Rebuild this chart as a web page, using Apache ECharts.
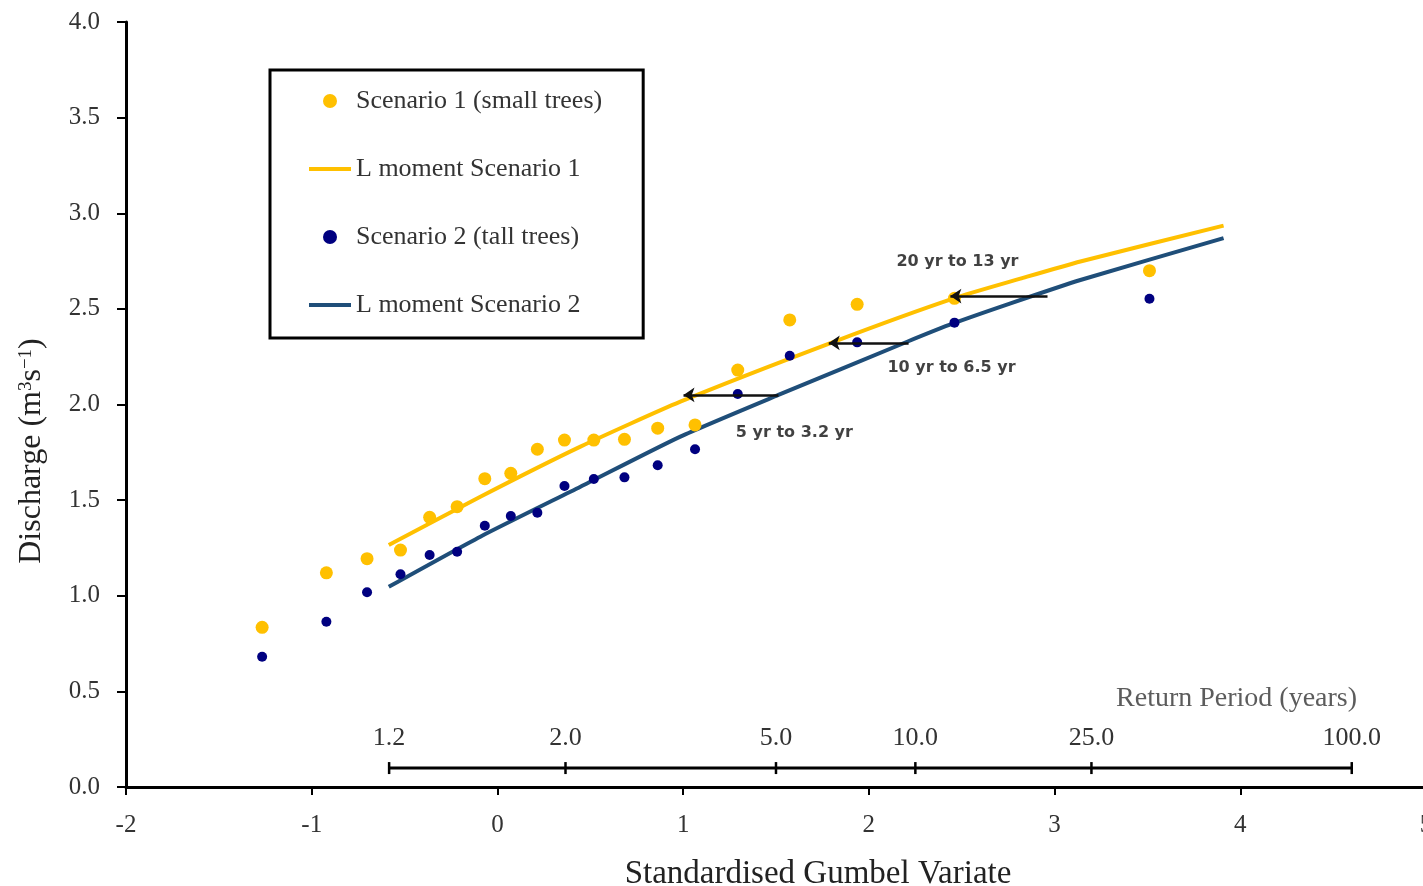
<!DOCTYPE html>
<html>
<head>
<meta charset="utf-8">
<script src="https://cdn.jsdelivr.net/npm/echarts@6/dist/echarts.min.js"></script>
<style>
  html, body { margin: 0; padding: 0; background: #fff; }
  #main { width: 1423px; height: 886px; }
</style>
</head>
<body>
<div id="main"></div>
<script>
// observed points (standardised Gumbel variate, discharge m3/s)
var gumbelX = [-1.267, -0.921, -0.702, -0.522, -0.365, -0.217, -0.068, 0.072, 0.215, 0.361,
               0.519, 0.684, 0.863, 1.064, 1.294, 1.574, 1.937, 2.461, 3.511];
var scenario1Q = [0.835, 1.120, 1.194, 1.239, 1.410, 1.466, 1.612, 1.640, 1.766, 1.814,
                  1.814, 1.818, 1.876, 1.893, 2.180, 2.442, 2.524, 2.555, 2.700];
var scenario2Q = [0.681, 0.864, 1.018, 1.112, 1.213, 1.230, 1.366, 1.417, 1.434, 1.574,
                  1.610, 1.619, 1.682, 1.766, 2.055, 2.255, 2.325, 2.428, 2.553];

// L moment fitted curves
var lm1X = [-0.585, -0.092, 0.447, 0.985, 1.811, 2.457, 2.816, 3.139, 3.910];
var lm1Q = [1.265, 1.518, 1.780, 2.015, 2.328, 2.555, 2.658, 2.748, 2.935];
var lm2X = [-0.585, -0.092, 0.447, 0.985, 1.513, 2.206, 2.457, 2.763, 3.139, 3.910];
var lm2Q = [1.047, 1.309, 1.570, 1.832, 2.050, 2.328, 2.425, 2.529, 2.651, 2.870];

// return period shift arrows
var arrowLabels = ['5 yr to 3.2 yr', '10 yr to 6.5 yr', '20 yr to 13 yr'];
var arrowFromX = [1.513, 2.214, 2.962];
var arrowToX = [1.002, 1.784, 2.439];
var arrowQ = [2.050, 2.322, 2.567];
var arrowLabelX = [1.599, 2.445, 2.477];
var arrowLabelQ = [1.851, 2.191, 2.745];

// secondary return period scale
var returnPeriods = [1.2, 2.0, 5.0, 10.0, 25.0, 100.0];
var returnAxisQ = 0.099;
var returnTitle = 'Return Period (years)';
var returnTitlePos = [3.98, 0.46];

function zip(a, b) {
    var out = [];
    for (var i = 0; i < a.length; i++) out.push([a[i], b[i]]);
    return out;
}
// Gumbel reduced variate of a return period
function gumbel(T) {
    return -Math.log(-Math.log(1 - 1 / T));
}

var serif = 'Liberation Serif';
var lineIcon = 'path://M0,0H42V4H0Z';
var rpTicks = returnPeriods.map(function (T) { return [gumbel(T), returnAxisQ, T]; });
var arrowData = [];
for (var i = 0; i < arrowLabels.length; i++) {
    arrowData.push({ coords: [[arrowFromX[i], arrowQ[i]], [arrowToX[i], arrowQ[i]]] });
}
var arrowTextData = arrowLabels.map(function (t, i) {
    return { name: t, value: [arrowLabelX[i], arrowLabelQ[i]] };
});

var chart = echarts.init(document.getElementById('main'));
var option = {
    animation: false,
    backgroundColor: '#fff',
    grid: { left: 126, top: 22, width: 1300, height: 765, outerBoundsMode: 'none' },
    legend: {
        orient: 'vertical',
        left: 270,
        top: 70,
        data: [
            { name: 'Scenario 1 (small trees)', icon: 'circle' },
            { name: 'L moment Scenario 1', icon: lineIcon },
            { name: 'Scenario 2 (tall trees)', icon: 'circle' },
            { name: 'L moment Scenario 2', icon: lineIcon }
        ],
        backgroundColor: '#fff',
        borderColor: '#000',
        borderWidth: 3,
        borderRadius: 0,
        padding: [18, 41, 20, 39],
        itemGap: 42,
        itemWidth: 42,
        itemHeight: 14,
        itemTextGap: 5,
        textStyle: { fontFamily: serif, fontSize: 26, color: '#333' }
    },
    xAxis: {
        type: 'value',
        min: -2,
        max: 5,
        interval: 1,
        name: 'Standardised Gumbel Variate',
        nameLocation: 'middle',
        nameGap: 71,
        nameTextStyle: { fontFamily: serif, fontSize: 33, color: '#222', padding: [0, 0, 0, 84] },
        axisLine: { onZero: false, lineStyle: { color: '#000', width: 3 } },
        axisTick: { length: 8, lineStyle: { color: '#000', width: 2 } },
        axisLabel: { margin: 26, fontFamily: serif, fontSize: 25, color: '#333' },
        splitLine: { show: false }
    },
    yAxis: {
        type: 'value',
        min: 0,
        max: 4,
        interval: 0.5,
        axisLine: { show: true, onZero: false, lineStyle: { color: '#000', width: 3 } },
        axisTick: { show: true, length: 9, lineStyle: { color: '#000', width: 2 } },
        axisLabel: {
            margin: 26, fontFamily: serif, fontSize: 25, color: '#333',
            formatter: function (v) { return v.toFixed(1); }
        },
        splitLine: { show: false }
    },
    graphic: [{
        type: 'text',
        x: 32,
        y: 451,
        rotation: Math.PI / 2,
        style: {
            text: 'Discharge (m{sup|3}s{sup|\u22121})',
            font: '32px "Liberation Serif"',
            fill: '#222',
            align: 'center',
            verticalAlign: 'middle',
            rich: {
                sup: { fontFamily: serif, fontSize: 19, fill: '#222', padding: [0, 0, 12, 0] }
            }
        }
    }],
    series: [
        {
            name: 'Scenario 1 (small trees)',
            type: 'scatter',
            data: zip(gumbelX, scenario1Q),
            symbol: 'circle',
            symbolSize: 13,
            itemStyle: { color: '#FFC000', opacity: 1 },
            z: 3
        },
        {
            name: 'L moment Scenario 1',
            type: 'line',
            data: zip(lm1X, lm1Q),
            symbol: 'none',
            smooth: 0.2,
            lineStyle: { color: '#FFC000', width: 4 },
            itemStyle: { color: '#FFC000' },
            z: 2
        },
        {
            name: 'Scenario 2 (tall trees)',
            type: 'scatter',
            data: zip(gumbelX, scenario2Q),
            symbol: 'circle',
            symbolSize: 10,
            itemStyle: { color: '#000080', opacity: 1 },
            z: 3
        },
        {
            name: 'L moment Scenario 2',
            type: 'line',
            data: zip(lm2X, lm2Q),
            symbol: 'none',
            smooth: 0.2,
            lineStyle: { color: '#1F4E79', width: 4 },
            itemStyle: { color: '#1F4E79' },
            z: 2
        },
        {
            // shift arrows
            type: 'lines',
            coordinateSystem: 'cartesian2d',
            data: arrowData,
            symbol: ['none', 'arrow'],
            symbolSize: 11,
            lineStyle: { color: '#111', width: 2.5, opacity: 1 },
            silent: true,
            z: 5
        },
        {
            type: 'scatter',
            data: arrowTextData,
            symbolSize: 0,
            silent: true,
            label: {
                show: true,
                position: 'inside',
                formatter: function (p) { return p.name; },
                fontFamily: 'DejaVu Sans',
                fontWeight: 'bold',
                fontSize: 16,
                color: '#111'
            },
            z: 6
        },
        {
            // return period scale line
            type: 'line',
            data: [[gumbel(returnPeriods[0]), returnAxisQ], [gumbel(returnPeriods[returnPeriods.length - 1]), returnAxisQ]],
            symbol: 'none',
            lineStyle: { color: '#000', width: 3 },
            silent: true,
            z: 4
        },
        {
            type: 'scatter',
            data: rpTicks,
            symbol: 'rect',
            symbolSize: [2.5, 12],
            itemStyle: { color: '#000', opacity: 1 },
            silent: true,
            label: {
                show: true,
                position: 'top',
                distance: 11,
                formatter: function (p) { return p.value[2].toFixed(1); },
                fontFamily: serif,
                fontSize: 26,
                color: '#333'
            },
            z: 4
        },
        {
            type: 'scatter',
            data: [{ name: returnTitle, value: returnTitlePos }],
            symbolSize: 0,
            silent: true,
            label: {
                show: true,
                position: 'inside',
                formatter: function (p) { return p.name; },
                fontFamily: serif,
                fontSize: 28,
                color: '#333'
            },
            z: 4
        }
    ]
};
chart.setOption(option);
</script>
</body>
</html>
